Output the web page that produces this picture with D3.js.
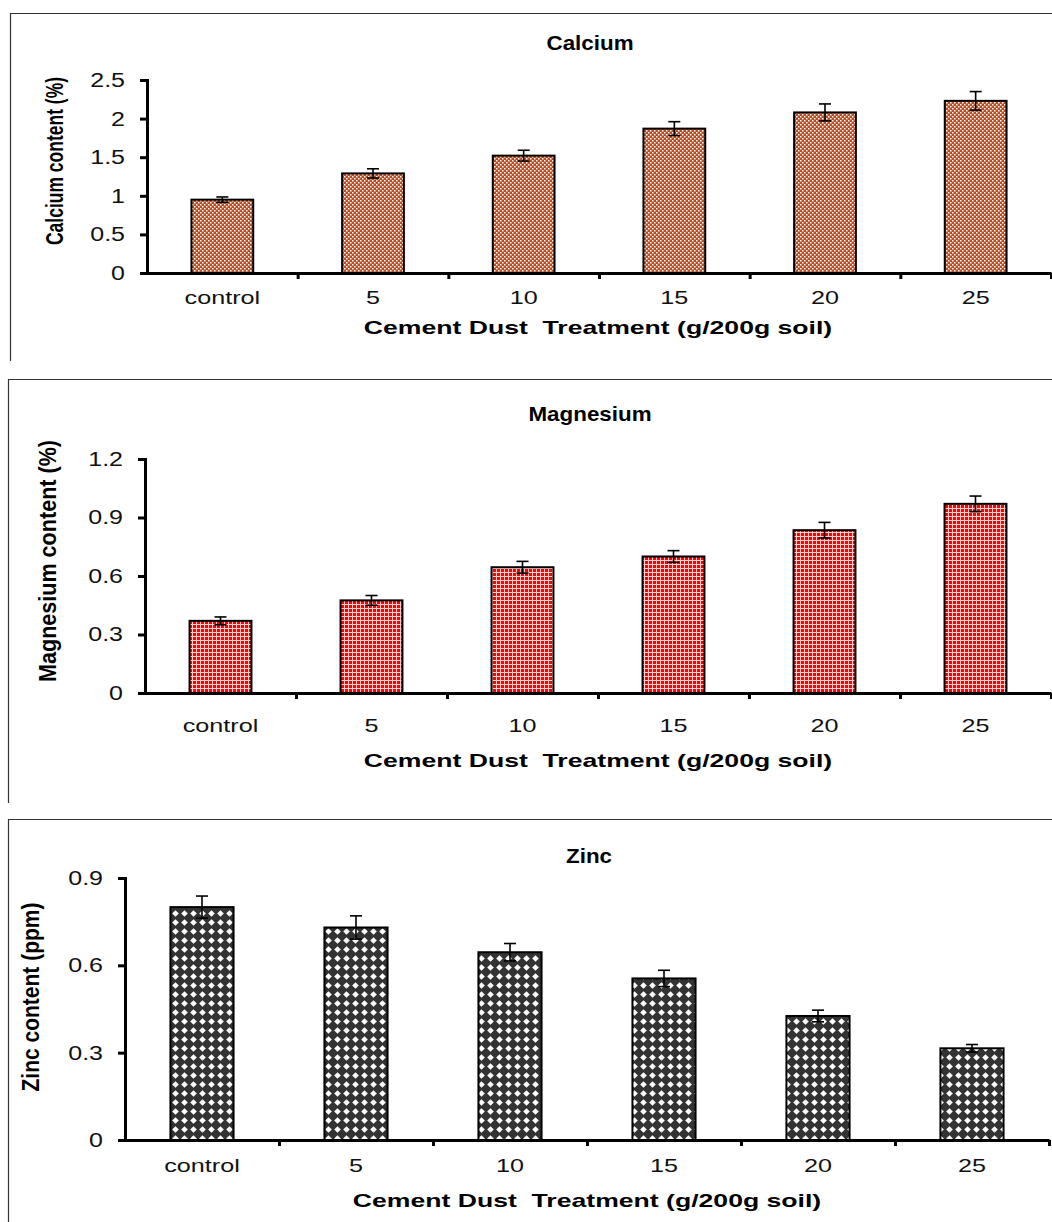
<!DOCTYPE html>
<html>
<head>
<meta charset="utf-8">
<script src="https://cdn.jsdelivr.net/npm/d3@7"></script>
<style>
  body { margin: 0; background: #fff; }
  svg { display: block; font-family: "Liberation Sans", Arial, sans-serif; }
  text { white-space: pre; }
</style>
</head>
<body>
<svg id="chart" width="1052" height="1222"></svg>
<script>
// data
const treatments = ["control", "5", "10", "15", "20", "25"];

const calcium = [0.95, 1.29, 1.52, 1.87, 2.08, 2.23];
const calciumErr = [0.035, 0.06, 0.07, 0.09, 0.11, 0.12];
const calciumTicks = [0, 0.5, 1, 1.5, 2, 2.5];

const magnesium = [0.37, 0.475, 0.645, 0.70, 0.835, 0.97];
const magnesiumErr = [0.02, 0.025, 0.03, 0.03, 0.04, 0.04];
const magnesiumTicks = [0, 0.3, 0.6, 0.9, 1.2];

const zinc = [0.80, 0.73, 0.645, 0.555, 0.426, 0.315];
const zincErr = [0.038, 0.04, 0.03, 0.028, 0.02, 0.013];
const zincTicks = [0, 0.3, 0.6, 0.9];

const xTitle = "Cement Dust  Treatment (g/200g soil)";

// the original picture is stretched sideways, text included
const sx = 1.4;

const svg = d3.select("#chart");
const defs = svg.append("defs");

/*
 * Fill patterns
 */
// brown checker
const pCa = defs.append("pattern").attr("id", "patCa")
    .attr("patternUnits", "userSpaceOnUse").attr("width", 4).attr("height", 4);
pCa.append("rect").attr("width", 4).attr("height", 4).attr("fill", "#b94c20");
pCa.append("rect").attr("x", 0).attr("y", 0).attr("width", 1.5).attr("height", 1.5).attr("fill", "#fff");
pCa.append("rect").attr("x", 2).attr("y", 2).attr("width", 1.5).attr("height", 1.5).attr("fill", "#fff");

// red grid
const pMg = defs.append("pattern").attr("id", "patMg")
    .attr("patternUnits", "userSpaceOnUse").attr("width", 4).attr("height", 4);
pMg.append("rect").attr("width", 4).attr("height", 4).attr("fill", "#ffd0d0");
pMg.append("rect").attr("x", 1).attr("y", 1).attr("width", 3).attr("height", 3).attr("fill", "#ff0000");

// dark with white diamonds
const pZn = defs.append("pattern").attr("id", "patZn")
    .attr("patternUnits", "userSpaceOnUse").attr("width", 9).attr("height", 9);
pZn.append("rect").attr("width", 9).attr("height", 9).attr("fill", "#333");
pZn.append("path").attr("d", "M4.5,1.2 L7.8,4.5 L4.5,7.8 L1.2,4.5 Z").attr("fill", "#fff");

/**
 * One bar panel
 */
function drawPanel(cfg) {
    const g = svg.append("g");

    // frame (top + left edge of the pasted chart)
    g.append("line").attr("x1", cfg.frameX).attr("x2", 1052)
        .attr("y1", cfg.frameTop + 0.5).attr("y2", cfg.frameTop + 0.5)
        .attr("stroke", "#333").attr("stroke-width", 1.2);
    g.append("line").attr("x1", cfg.frameX + 0.5).attr("x2", cfg.frameX + 0.5)
        .attr("y1", cfg.frameTop).attr("y2", cfg.frameBottom)
        .attr("stroke", "#333").attr("stroke-width", 1.2);

    const x = d3.scaleBand().domain(treatments)
        .range([cfg.x0, cfg.x1]).paddingInner(0.59).paddingOuter(0.295);
    const xEdge = d3.scaleLinear().domain([0, treatments.length]).range([cfg.x0, cfg.x1]);
    const y = d3.scaleLinear().domain([0, cfg.yMax]).range([cfg.y0, cfg.yTop]);

    // bars
    g.selectAll("rect.bar").data(cfg.values).enter().append("rect")
        .attr("class", "bar")
        .attr("x", (d, i) => x(treatments[i]))
        .attr("y", d => y(d))
        .attr("width", x.bandwidth())
        .attr("height", d => y(0) - y(d))
        .attr("fill", `url(#${cfg.pattern})`)
        .attr("stroke", "#000").attr("stroke-width", 2);

    // error bars
    const cap = 6;
    const eb = g.selectAll("g.err").data(cfg.values).enter().append("g")
        .attr("class", "err")
        .attr("transform", (d, i) => `translate(${x(treatments[i]) + x.bandwidth() / 2},0)`);
    eb.append("line").attr("y1", (d, i) => y(d - cfg.errors[i])).attr("y2", (d, i) => y(d + cfg.errors[i]));
    eb.append("line").attr("x1", -cap).attr("x2", cap)
        .attr("y1", (d, i) => y(d + cfg.errors[i])).attr("y2", (d, i) => y(d + cfg.errors[i]));
    eb.append("line").attr("x1", -cap).attr("x2", cap)
        .attr("y1", (d, i) => y(d - cfg.errors[i])).attr("y2", (d, i) => y(d - cfg.errors[i]));
    eb.selectAll("line").attr("stroke", "#000").attr("stroke-width", 1.6);

    // y axis
    const yAxis = g.append("g").attr("transform", `translate(${cfg.x0},0)`)
        .call(d3.axisLeft(y).tickValues(cfg.ticks).tickSize(7).tickSizeOuter(0).tickFormat(d => String(d)));
    yAxis.select(".domain").attr("stroke-width", 3).attr("stroke-linecap", "square");
    yAxis.selectAll(".tick line").attr("stroke-width", 3);
    yAxis.selectAll(".tick text")
        .attr("x", 0)
        .attr("transform", `translate(-22,0) scale(1.25,1)`)
        .attr("font-size", 20).attr("fill", "#111");

    // x axis (ticks sit between the categories)
    const xAxis = g.append("g").attr("transform", `translate(0,${cfg.y0})`)
        .call(d3.axisBottom(xEdge).tickValues(d3.range(1, treatments.length + 1)).tickSize(6).tickSizeOuter(0).tickFormat(""));
    xAxis.select(".domain").attr("stroke-width", 3);
    xAxis.selectAll(".tick line").attr("stroke-width", 3);

    g.selectAll("text.xlab").data(treatments).enter().append("text")
        .attr("class", "xlab")
        .attr("text-anchor", "middle")
        .attr("transform", d => `translate(${x(d) + x.bandwidth() / 2},${cfg.tickLabelY}) scale(${sx},1)`)
        .attr("font-size", 18).attr("fill", "#111")
        .text(d => d);

    // titles
    g.append("text")
        .attr("text-anchor", "middle")
        .attr("transform", `translate(${cfg.titleX},${cfg.titleY}) scale(1.12,1)`)
        .attr("font-size", 20).attr("font-weight", "bold")
        .text(cfg.title);

    g.append("text")
        .attr("text-anchor", "middle")
        .attr("transform", `translate(${cfg.xTitleX},${cfg.xTitleY}) scale(${sx},1)`)
        .attr("font-size", 19).attr("font-weight", "bold")
        .text(xTitle);

    g.append("text")
        .attr("text-anchor", "middle")
        .attr("transform", `translate(${cfg.yLabelX},${cfg.yLabelY}) scale(${sx},1) rotate(-90)`)
        .attr("font-size", 17).attr("font-weight", "bold")
        .attr("textLength", cfg.yLabelLen).attr("lengthAdjust", "spacingAndGlyphs")
        .text(cfg.yLabel);
}

drawPanel({
    title: "Calcium", values: calcium, errors: calciumErr, ticks: calciumTicks, yMax: 2.5,
    yLabel: "Calcium content (%)", yLabelLen: 168, pattern: "patCa",
    frameX: 10, frameTop: 13, frameBottom: 361,
    x0: 147, x1: 1051, y0: 273, yTop: 80,
    titleX: 590, titleY: 50, tickLabelY: 304, xTitleX: 598, xTitleY: 334,
    yLabelX: 63, yLabelY: 161
});

drawPanel({
    title: "Magnesium", values: magnesium, errors: magnesiumErr, ticks: magnesiumTicks, yMax: 1.2,
    yLabel: "Magnesium content (%)", yLabelLen: 242, pattern: "patMg",
    frameX: 8, frameTop: 379, frameBottom: 803,
    x0: 145, x1: 1051, y0: 693, yTop: 459,
    titleX: 590, titleY: 421, tickLabelY: 732, xTitleX: 598, xTitleY: 767,
    yLabelX: 56, yLabelY: 561
});

drawPanel({
    title: "Zinc", values: zinc, errors: zincErr, ticks: zincTicks, yMax: 0.9,
    yLabel: "Zinc content (ppm)", yLabelLen: 189, pattern: "patZn",
    frameX: 8, frameTop: 819, frameBottom: 1222,
    x0: 125, x1: 1049, y0: 1140, yTop: 878,
    titleX: 589, titleY: 863, tickLabelY: 1172, xTitleX: 587, xTitleY: 1207,
    yLabelX: 39, yLabelY: 997
});
</script>
</body>
</html>
